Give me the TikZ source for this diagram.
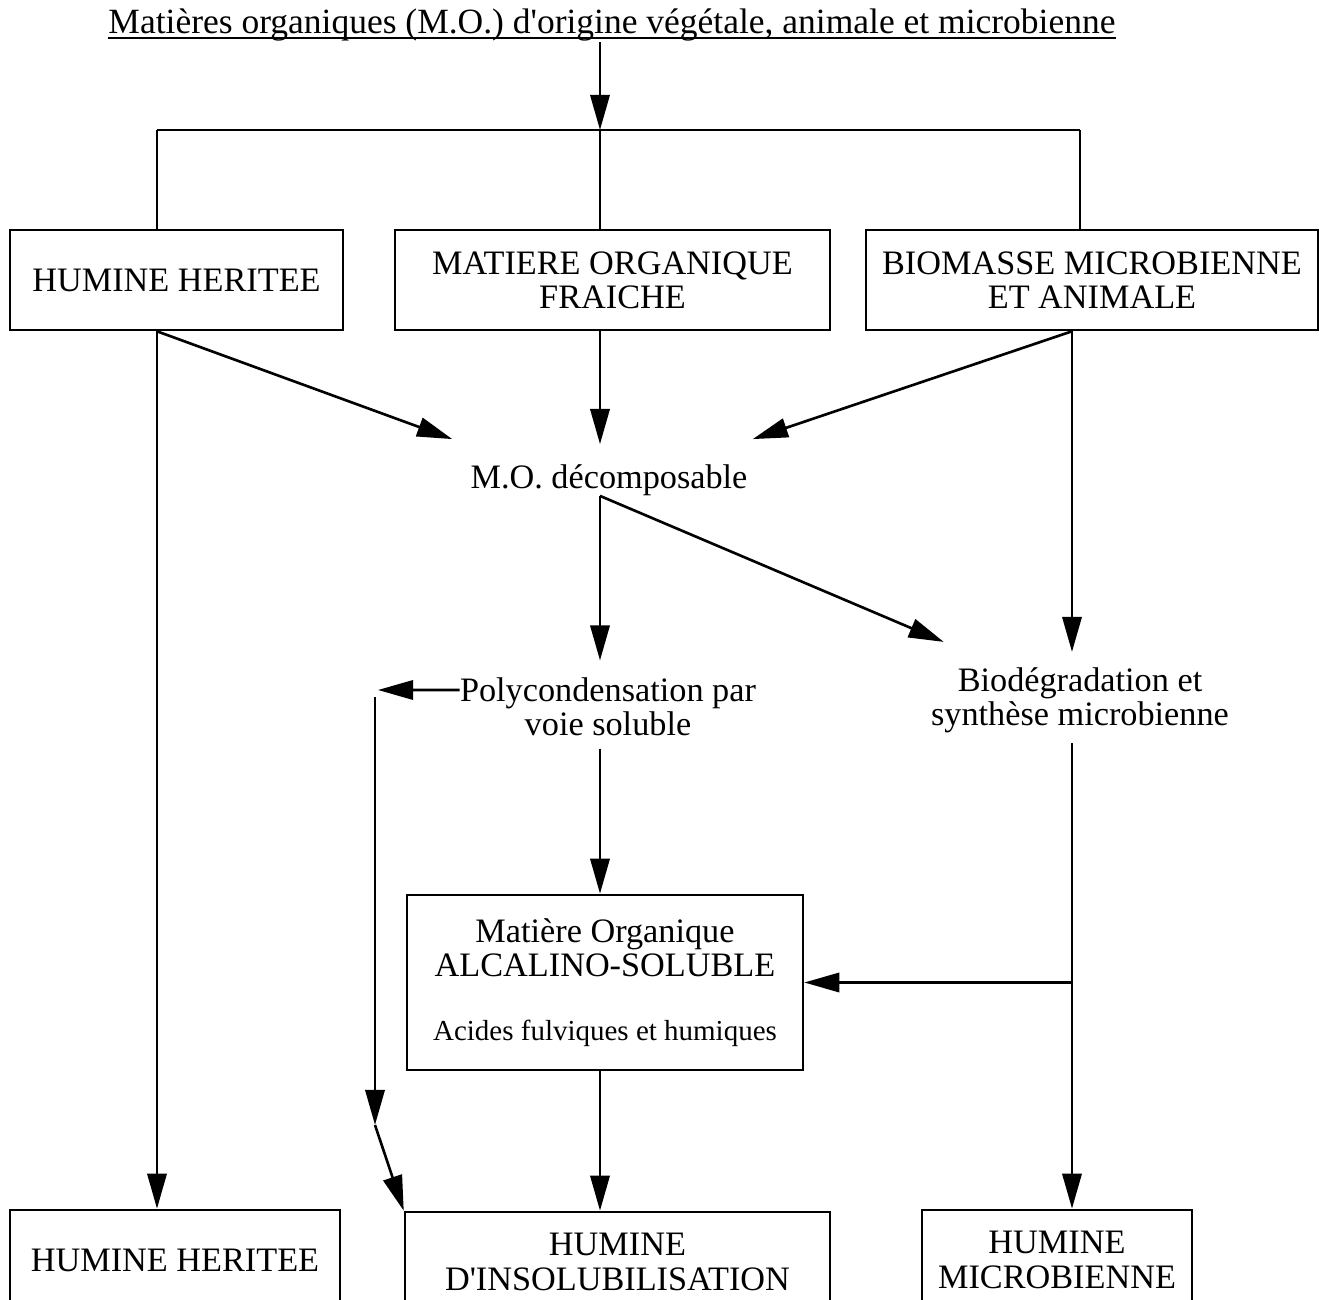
\documentclass[tikz,border=0pt]{standalone}
\usepackage{fontspec}
\setmainfont{Liberation Serif}
\usetikzlibrary{arrows.meta}
\tikzset{
  ln/.style={line width=1.5pt},
  fl/.style={line width=1.5pt,-{Triangle[length=20pt,width=11pt]}},
  txt/.style={align=center,inner sep=0pt,font=\fontsize{19.5}{19.5}\selectfont},
  bx/.style={txt,draw,line width=1.5pt,minimum height=2cm},
}
\def\petit{\fontsize{16.5}{16.5}\selectfont}
\def\apos{\textquotesingle}

\begin{document}
\begin{tikzpicture}[x=0.02cm,y=-0.02cm]
\clip (0,0) rectangle (1330,1300);
\node[txt,anchor=base,font=\fontsize{20.2}{20.2}\selectfont] (titre) at (612,34) {Matières organiques (M.O.) d\apos origine végétale, animale et microbienne};
\draw[ln] ([yshift=-0.08cm]titre.base west) -- ([yshift=-0.08cm]titre.base east);
\coordinate (j0) at (600,130);
\coordinate (jg) at (157,130);
\coordinate (jd) at (1080,130);
\coordinate (sd) at (1072,0);
\node[bx,minimum width=6.66cm] (hh1) at (176.5,280) {HUMINE HERITEE};
\node[bx,minimum width=8.7cm] (mof) at (612.5,280) {MATIERE ORGANIQUE\\FRAICHE};
\node[bx,minimum width=9.04cm] (bio) at (1092,280) {BIOMASSE MICROBIENNE\\ET ANIMALE};
\node[txt] (mod) at (609,480) {M.O. décomposable};
\node[txt] (poly) at (608,707) {Polycondensation par\\voie soluble};
\node[txt] (biod) at (1080,700) {Biodégradation et\\synthèse microbienne};
\node[bx,minimum width=7.92cm,minimum height=3.5cm] (alc) at (605,982.5)
  {Matière Organique\\ALCALINO-SOLUBLE\\[0.6cm]{\petit Acides fulviques et humiques}};
\node[bx,minimum width=6.6cm] (hh2) at (175,1260) {HUMINE HERITEE};
\node[bx,minimum width=8.5cm] (hins) at (617.5,1262) {HUMINE\\D\apos INSOLUBILISATION};
\node[bx,minimum width=5.4cm] (hmic) at (1057,1260) {HUMINE\\MICROBIENNE};
\coordinate (pg) at (378,690);
\coordinate (ph) at (375,697);
\coordinate (pb) at (375,1125);

\draw[fl] (titre.south -| j0) -- (j0);
\draw[ln] (jg) -- (jd);
\draw[ln] (jg) -- (hh1.north -| jg);
\draw[ln] (j0) -- (mof.north -| j0);
\draw[ln] (jd) -- (bio.north -| jd);
\draw[fl] (hh1.south -| jg) -- ([xshift=-0.36cm,yshift=0.5cm]mod.north west);
\draw[fl] (mof.south -| j0) -- ([yshift=0.4cm]mod.north -| j0);
\draw[fl] (bio.south -| sd) -- ([xshift=0.1cm,yshift=0.5cm]mod.north east);
\draw[fl] (bio.south -| sd) -- ([yshift=0.3cm]biod.north -| sd);
\draw[fl] (hh1.south -| jg) -- (hh2.north -| jg);
\draw[fl] (mod.south -| j0) -- ([yshift=0.34cm]poly.north -| j0);
\draw[fl] (mod.south -| j0) -- ([xshift=0.26cm,yshift=0.5cm]biod.north west);
\draw[fl] ([yshift=0.34cm]poly.west) -- (pg);
\draw[fl] (ph) -- (pb);
\draw[fl] (pb) -- (hins.north west);
\draw[fl] ([yshift=-0.24cm]poly.south -| j0) -- (alc.north -| j0);
\draw[fl] ([yshift=-0.2cm]biod.south -| sd) -- (hmic.north -| sd);
\draw[fl] (alc.east -| sd) -- (alc.east);
\draw[fl] (alc.south -| j0) -- (hins.north -| j0);
\end{tikzpicture}
\end{document}
